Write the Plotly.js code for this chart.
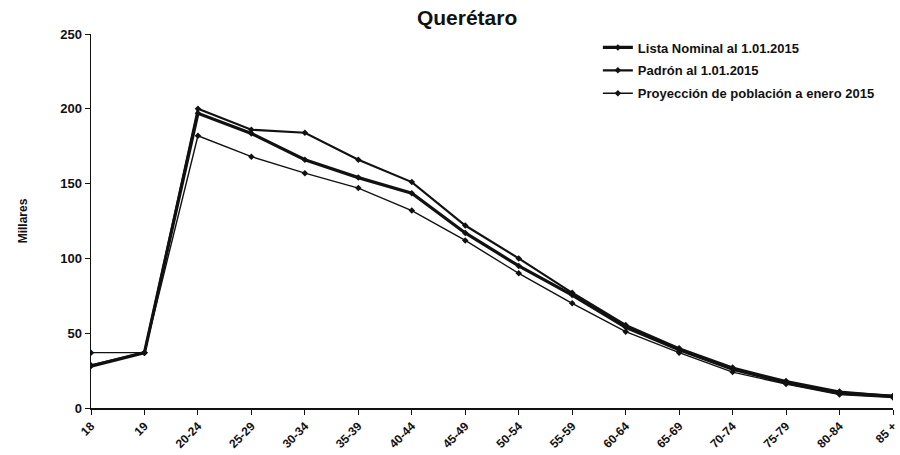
<!DOCTYPE html>
<html>
<head>
<meta charset="utf-8">
<script src="https://cdn.plot.ly/plotly-3.0.1.min.js"></script>
<style>html,body{margin:0;padding:0;background:#fff;}#chart{width:900px;height:455px;}</style>
</head>
<body>
<div id="chart"></div>
<script>
const categories = ["18","19","20-24","25-29","30-34","35-39","40-44","45-49","50-54","55-59","60-64","65-69","70-74","75-79","80-84","85 +"];
const listaNominal = [28, 37, 197, 183.5, 166, 154, 143.5, 117, 95, 75.5, 54, 39, 26, 17, 10, 8];
const padron =       [28.5, 37, 200, 186, 184, 166, 151, 122, 100, 77, 55.5, 40, 27, 18, 11, 8];
const proyeccion =   [37, 37, 182, 168, 157, 147, 132, 112, 90, 70, 51, 37, 24, 16, 9, 7];
const seriesNames = ["Lista Nominal al 1.01.2015", "Padrón al 1.01.2015", "Proyección de población a enero 2015"];
const yTickVals = [0, 50, 100, 150, 200, 250];

const FONT = "'Liberation Sans Narrow', 'Arial Narrow', 'Liberation Sans', sans-serif";

function trace(name, y, w, group) {
  return {
    type: 'scatter', mode: 'lines+markers', name: name, x: categories, y: y,
    legendgroup: group,
    line: {color: '#111', width: w},
    marker: {symbol: 'diamond', size: 5, color: '#111'}
  };
}

const data = [
  trace(seriesNames[0], listaNominal, 3.2, 'a'),
  trace(seriesNames[1], padron, 2.2, 'b'),
  trace(seriesNames[2], proyeccion, 1.4, 'c')
];

const layout = {
  width: 900, height: 455,
  margin: {l: 91, r: 7, t: 34, b: 47},
  paper_bgcolor: '#fff', plot_bgcolor: '#fff',
  font: {family: FONT, color: '#111'},
  title: {text: 'Querétaro', font: {family: "'Liberation Sans', sans-serif", size: 21, weight: 'bold', color: '#111'},
          x: 0.519, xanchor: 'center', y: 0.962, yanchor: 'middle'},
  showlegend: true,
  legend: {x: 0.632, y: 1.004, xanchor: 'left', yanchor: 'top', bgcolor: 'rgba(0,0,0,0)',
           font: {family: FONT, size: 13, weight: 'bold', color: '#111'},
           traceorder: 'grouped', tracegroupgap: 3, itemwidth: 30},
  xaxis: {
    type: 'category', range: [0, 15], showgrid: false, zeroline: false,
    showline: true, linecolor: '#111', linewidth: 1.5,
    ticks: 'outside', ticklen: 5, tickcolor: '#111', tickangle: -45,
    tickfont: {family: FONT, size: 12, weight: 'bold', color: '#111'}
  },
  yaxis: {
    range: [0, 250], tickvals: yTickVals, showgrid: false, zeroline: false,
    showline: true, linecolor: '#111', linewidth: 1.5,
    ticks: 'outside', ticklen: 5, tickcolor: '#111',
    tickfont: {family: FONT, size: 13, weight: 'bold', color: '#111'},
    title: {text: 'Millares', font: {family: FONT, size: 12, weight: 'bold', color: '#111'}, standoff: 30}
  }
};

Plotly.newPlot('chart', data, layout, {displayModeBar: false, staticPlot: true});
</script>
</body>
</html>
